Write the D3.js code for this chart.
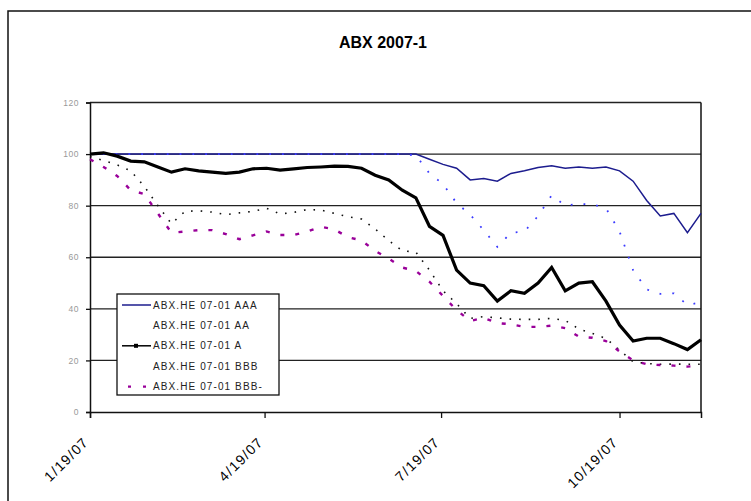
<!DOCTYPE html>
<html>
<head>
<meta charset="utf-8">
<script src="https://cdn.jsdelivr.net/npm/d3@7"></script>
<style>
  body { margin: 0; background: #fff; }
  svg { display: block; font-family: Arial, "Liberation Sans", sans-serif; }
</style>
</head>
<body>
<div id="chart"></div>
<script>
// weekly closes, ABX.HE 07-01 indices
var dates = ["2007-01-19","2007-01-26","2007-02-02","2007-02-09","2007-02-16","2007-02-23",
  "2007-03-02","2007-03-09","2007-03-16","2007-03-23","2007-03-30","2007-04-06","2007-04-13",
  "2007-04-20","2007-04-27","2007-05-04","2007-05-11","2007-05-18","2007-05-25","2007-06-01",
  "2007-06-08","2007-06-15","2007-06-22","2007-06-29","2007-07-06","2007-07-13","2007-07-20",
  "2007-07-27","2007-08-03","2007-08-10","2007-08-17","2007-08-24","2007-08-31","2007-09-07",
  "2007-09-14","2007-09-21","2007-09-28","2007-10-05","2007-10-12","2007-10-19","2007-10-26",
  "2007-11-02","2007-11-09","2007-11-16","2007-11-23","2007-11-30"];

var aaa = [100,100,100,100,100,100,100,100,100,100,100,100,100,100,100,100,100,100,100,100,100,100,100,100,
  100,98,96,94.5,90,90.5,89.5,92.5,93.5,94.8,95.5,94.5,95,94.5,95,93.5,89.5,82,76,77,69.5,77];
var aa = [100,100,100,100,100,100,100,100,100,100,100,100,100,100,100,100,100,100,100,100,100,100,100,100,
  99.5,92.5,88.4,81,76.5,70.5,64,69.5,70,76,84,80,80.7,80.5,79,70,55,47.5,45.8,46,41.5,42.5];
var a = [100,100.5,99.2,97.3,97,95,93,94.3,93.5,93,92.5,93,94.3,94.5,93.8,94.3,94.8,95,95.3,95.2,
  94.5,91.8,90,86,83,72,68.5,55,50,49,43,47,46,50,56,47,50,50.5,43,33.7,27.5,28.6,28.6,26.5,24.2,28];
var bbb = [99,97.5,95.8,93.5,87.5,80,73,77.8,78,77.5,76.5,77.2,77.8,79,76.8,77.4,78.5,78.3,77,75.7,
  74.8,71,66.5,62.5,62,55,47,42,36.3,37,36.5,36,35.9,35.9,36.3,35.5,32.2,30.5,28.5,24,19.5,18.8,18.5,18.6,18.5,18.5];
var bbbMinus = [98,95,91.5,86,84.5,77,69.5,70,70.5,70.5,69,67,68.5,70,68.6,68.6,70,71.8,70.8,67.8,
  66.5,62.5,59.5,56,54.7,50.5,45,39.5,35.3,36.5,34.5,34,33,33,33.5,32.5,29.2,28.8,27.5,23.5,20,18.5,18.2,18,17.6,18];

var seriesNames = ["ABX.HE 07-01 AAA","ABX.HE 07-01 AA","ABX.HE 07-01 A","ABX.HE 07-01 BBB","ABX.HE 07-01 BBB-"];
var yTicks = [0,20,40,60,80,100,120];
var xTickDates = ["2007-01-19","2007-04-19","2007-07-19","2007-10-19"];
var title = "ABX 2007-1";

var width = 751, height = 501,
    plot = {left: 90, right: 701, top: 102.5, bottom: 412};

var parse = d3.timeParse("%Y-%m-%d"),
    fmt = d3.timeFormat("%-m/%-d/%y");

var styles = [
  {values: aaa, color: "#1c1c8e", width: 1.5, dash: null},
  {values: aa, color: "#3a3aff", width: 1.8, dash: "1.8,11"},
  {values: a, color: "#000", width: 3.2, dash: null},
  {values: bbb, color: "#111", width: 1.6, dash: "1.6,8"},
  {values: bbbMinus, color: "#990099", width: 2.4, dash: "4,11"}
];

var x = d3.scaleTime()
  .domain([parse(dates[0]), parse(dates[dates.length - 1])])
  .range([plot.left, plot.right]);

var y = d3.scaleLinear()
  .domain([0, 120])
  .range([plot.bottom, plot.top]);

var svg = d3.select("#chart").append("svg")
  .attr("width", width)
  .attr("height", height);

svg.append("rect").attr("width", width).attr("height", height).attr("fill", "#fff");

// outer chart frame
svg.append("rect")
  .attr("x", 8).attr("y", 11)
  .attr("width", 760).attr("height", 520)
  .attr("fill", "none")
  .attr("stroke", "#111")
  .attr("stroke-width", 1.5);

svg.append("text")
  .attr("x", 383).attr("y", 48)
  .attr("text-anchor", "middle")
  .attr("font-size", 16)
  .attr("font-weight", "bold")
  .text(title);

// gridlines
svg.append("g")
  .selectAll("line")
  .data(yTicks.filter(function(d) { return d > 0; }))
  .enter().append("line")
  .attr("x1", plot.left).attr("x2", plot.right)
  .attr("y1", function(d) { return y(d); })
  .attr("y2", function(d) { return y(d); })
  .attr("stroke", "#222")
  .attr("stroke-width", 1.4);

// y axis
var yAxis = svg.append("g")
  .attr("transform", "translate(" + plot.left + ",0)")
  .call(d3.axisLeft(y).tickValues(yTicks).tickSize(4).tickPadding(7));
yAxis.select(".domain").attr("stroke", "#111").attr("stroke-width", 1.5);
yAxis.selectAll(".tick line").attr("stroke", "#111").attr("stroke-width", 1.3);
yAxis.selectAll(".tick text")
  .attr("fill", "#999")
  .attr("font-size", 8.5)
  .attr("font-family", "Arial, sans-serif")
  .attr("letter-spacing", 0.5);

// right border
svg.append("line")
  .attr("x1", plot.right).attr("x2", plot.right)
  .attr("y1", plot.top).attr("y2", plot.bottom)
  .attr("stroke", "#111").attr("stroke-width", 1.5);

// x axis
var xAxis = svg.append("g")
  .attr("transform", "translate(0," + plot.bottom + ")")
  .call(d3.axisBottom(x).tickValues(xTickDates.map(parse)).tickSize(6).tickFormat(fmt));
xAxis.select(".domain").attr("stroke", "#111").attr("stroke-width", 1.5);
xAxis.selectAll(".tick line").attr("stroke", "#111").attr("stroke-width", 1.3);
xAxis.selectAll(".tick text")
  .attr("font-size", 14)
  .attr("font-family", "Arial, sans-serif")
  .attr("letter-spacing", 1.3)
  .attr("fill", "#000")
  .attr("text-anchor", "end")
  .attr("y", 0).attr("dy", 0)
  .attr("transform", "translate(-1,31) rotate(-45)");

// series lines
var line = d3.line()
  .x(function(d, i) { return x(parse(dates[i])); })
  .y(function(d) { return y(d); });

var order = [0, 1, 3, 4, 2];
order.forEach(function(k) {
  var s = styles[k];
  svg.append("path")
    .datum(s.values)
    .attr("fill", "none")
    .attr("stroke", s.color)
    .attr("stroke-width", s.width)
    .attr("stroke-dasharray", s.dash)
    .attr("stroke-linejoin", "miter")
    .attr("d", line);
});

// legend
var legend = svg.append("g").attr("transform", "translate(117,294)");
legend.append("rect")
  .attr("width", 162).attr("height", 101)
  .attr("fill", "#fff")
  .attr("stroke", "#111")
  .attr("stroke-width", 1.3);

var rows = legend.selectAll("g.row")
  .data(seriesNames)
  .enter().append("g")
  .attr("class", "row")
  .attr("transform", function(d, i) { return "translate(0," + (11 + i * 20.4) + ")"; });

rows.append("line")
  .attr("x1", 5).attr("x2", 34)
  .attr("stroke", function(d, i) { return styles[i].color; })
  .attr("stroke-width", function(d, i) { return i === 2 ? 1.5 : styles[i].width; })
  .attr("stroke-dasharray", function(d, i) { return i === 1 || i === 3 ? "0,40" : (i === 4 ? "3,12" : null); })
  .attr("stroke-dashoffset", function(d, i) { return i === 4 ? -6 : 0; });

rows.filter(function(d, i) { return i === 2; })
  .append("rect")
  .attr("x", 17).attr("y", -2).attr("width", 4).attr("height", 4)
  .attr("fill", "#000");

rows.append("text")
  .attr("x", 36).attr("y", 3.5)
  .attr("font-size", 10)
  .attr("letter-spacing", 1.1)
  .attr("fill", "#222")
  .text(function(d) { return d; });
</script>
</body>
</html>
